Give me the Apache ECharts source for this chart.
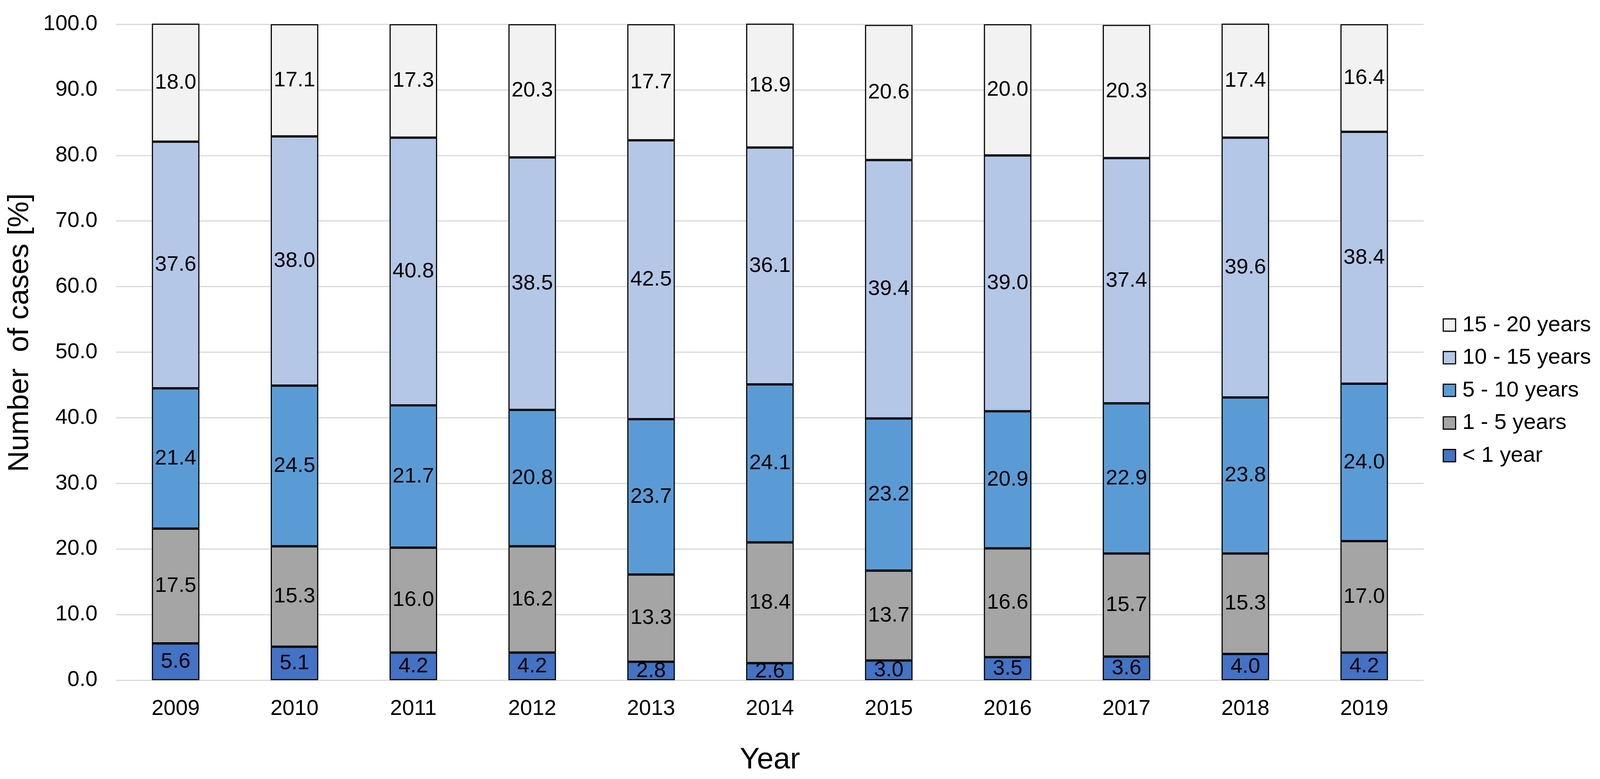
<!DOCTYPE html>
<html>
<head>
<meta charset="utf-8">
<script src="https://cdn.jsdelivr.net/npm/echarts@6/dist/echarts.min.js"></script>
<style>
html,body{margin:0;padding:0;background:#fff;overflow:hidden;width:100%;height:100%;}
#chart{width:100vw;height:100vh;}
</style>
</head>
<body>
<div id="chart"></div>
<script>
const years = ['2009','2010','2011','2012','2013','2014','2015','2016','2017','2018','2019'];
const lessThan1 = [5.6, 5.1, 4.2, 4.2, 2.8, 2.6, 3.0, 3.5, 3.6, 4.0, 4.2];
const oneToFive = [17.5, 15.3, 16.0, 16.2, 13.3, 18.4, 13.7, 16.6, 15.7, 15.3, 17.0];
const fiveToTen = [21.4, 24.5, 21.7, 20.8, 23.7, 24.1, 23.2, 20.9, 22.9, 23.8, 24.0];
const tenToFifteen = [37.6, 38.0, 40.8, 38.5, 42.5, 36.1, 39.4, 39.0, 37.4, 39.6, 38.4];
const fifteenToTwenty = [18.0, 17.1, 17.3, 20.3, 17.7, 18.9, 20.6, 20.0, 20.3, 17.4, 16.4];
const seriesNames = ['< 1 year', '1 - 5 years', '5 - 10 years', '10 - 15 years', '15 - 20 years'];
const seriesColors = ['#4472C4', '#A5A5A5', '#5B9BD5', '#B4C7E7', '#F2F2F2'];
const seriesData = [lessThan1, oneToFive, fiveToTen, tenToFifteen, fifteenToTwenty];

const FONT = 'Liberation Sans, Arial, sans-serif';
const el = document.getElementById('chart');
const chart = echarts.init(el, null, {renderer:'canvas'});
const W = chart.getWidth(), H = chart.getHeight();
const sx = W / 4282, sy = H / 1994, sf = Math.min(sx, sy);

const series = seriesNames.map((name, i) => ({
  name: name,
  type: 'bar',
  stack: 'total',
  barWidth: '40%',
  data: seriesData[i],
  itemStyle: { color: seriesColors[i], borderColor: '#000', borderWidth: 3 * sf },
  label: {
    show: true, position: 'inside', color: '#000',
    fontFamily: FONT, fontSize: 57 * sf,
    formatter: p => p.value.toFixed(1)
  },
  emphasis: { disabled: true }
}));

chart.setOption({
  animation: false,
  backgroundColor: '#fff',
  textStyle: { fontFamily: FONT, color: '#000' },
  grid: { left: 311 * sx, right: (4282 - 3810) * sx, top: 62 * sy, bottom: (1994 - 1741) * sy, containLabel: false },
  legend: {
    orient: 'vertical',
    left: 3861 * sx,
    top: 804 * sy,
    padding: 0,
    itemWidth: 33 * sf,
    itemHeight: 33 * sf,
    itemGap: 84 * sy - 59 * sf,
    icon: 'rect',
    data: seriesNames.slice().reverse(),
    textStyle: { fontFamily: FONT, fontSize: 59 * sf, color: '#000', padding: [0,0,0,13 * sf] },
    itemStyle: { borderColor: '#000', borderWidth: 3 * sf }
  },
  xAxis: {
    type: 'category',
    data: years,
    name: 'Year',
    nameLocation: 'middle',
    nameGap: 166 * sy,
    nameTextStyle: { fontFamily: FONT, fontSize: 80 * sf, color: '#000' },
    axisLine: { show: false },
    axisTick: { show: false },
    axisLabel: { fontFamily: FONT, fontSize: 58 * sf, color: '#000', margin: 46 * sy }
  },
  yAxis: {
    type: 'value',
    min: 0, max: 100, interval: 10,
    name: 'Number  of cases [%]',
    nameLocation: 'middle',
    nameGap: 218 * sx,
    nameRotate: 90,
    nameTextStyle: { fontFamily: FONT, fontSize: 78 * sf, color: '#000', padding: [0, 0, 0, 100 * sy] },
    axisLine: { show: false },
    axisTick: { show: false },
    splitLine: { lineStyle: { color: '#D9D9D9', width: 3 * sf } },
    axisLabel: { fontFamily: FONT, fontSize: 58 * sf, color: '#000', margin: 50 * sx, formatter: v => v.toFixed(1) }
  },
  series: series
});
</script>
</body>
</html>
